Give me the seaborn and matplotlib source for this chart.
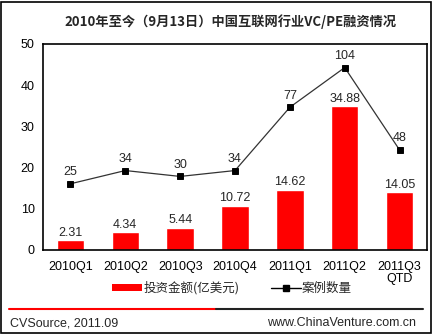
import matplotlib
matplotlib.use("Agg")
import matplotlib.pyplot as plt
import seaborn as sns
import pandas as pd
import numpy as np
from matplotlib.lines import Line2D
from matplotlib.patches import Patch, Rectangle

quarters = ["2010Q1", "2010Q2", "2010Q3", "2010Q4", "2011Q1", "2011Q2", "2011Q3\nQTD"]
amount = [2.31, 4.34, 5.44, 10.72, 14.62, 34.88, 14.05]
cases = [25, 34, 30, 34, 77, 104, 48]
title = "2010年至今（9月13日）中国互联网行业VC/PE融资情况"
bar_label_name = "投资金额(亿美元)"
line_label_name = "案例数量"

sns.set_theme(style="white")
plt.rcParams['font.family'] = ['Liberation Sans', 'Noto Sans CJK SC', 'DejaVu Sans']

df = pd.DataFrame({"quarter": quarters, "amount": amount, "cases": cases})

fig = plt.figure(figsize=(4.35, 3.35), dpi=100)
ax = fig.add_axes([43/435, 1-250/335, (427-43)/435, (250-44)/335])

sns.barplot(data=df, x="quarter", y="amount", color="#FF0000", saturation=1,
            width=0.5, ax=ax)
ax.set_ylim(0, 50)
ax.set_yticks([0, 10, 20, 30, 40, 50])
ax.set_xlabel("")
ax.set_ylabel("")
ax.tick_params(axis="both", length=0, labelsize=9, colors="black", pad=6)
ax.tick_params(axis="x", pad=8)
for lab in ax.get_xticklabels():
    lab.set_linespacing(1.0)
ax.bar_label(ax.containers[0], fmt="%.2f", padding=1, fontsize=9)
for s in ax.spines.values():
    s.set_color("black")
    s.set_linewidth(1.2)

ax2 = ax.twinx()
sns.pointplot(data=df, x="quarter", y="cases", color="black", markers="s",
              linestyles="-", ax=ax2, markersize=4.8, linewidth=0.9)
for ln in ax2.lines:
    ln.set_color("#333333")
    ln.set_markerfacecolor("black")
    ln.set_markeredgecolor("black")
ax2.set_ylim(-20, 120)
ax2.set_yticks([])
ax2.set_ylabel("")
ax2.set_xlabel("")
for s in ax2.spines.values():
    s.set_visible(False)
for i, v in enumerate(cases):
    ax2.annotate(str(v), (i, v), xytext=(0, 4), textcoords="offset points",
                 ha="center", va="bottom", fontsize=9)

fig.text(231/435, 1-22/335, title, ha="center", va="center", fontsize=9.5,
         fontweight="bold", family=['Noto Sans CJK SC', 'DejaVu Sans'])

handles = [Patch(facecolor="#FF0000", edgecolor="none"),
           Line2D([0], [0], color="black", marker="s", markersize=4.5, lw=1)]
fig.legend(handles, [bar_label_name, line_label_name], loc="center",
           bbox_to_anchor=(232/435, 1-288/335), ncol=2, frameon=False,
           handlelength=2.4, handleheight=0.5, columnspacing=2.5,
           handletextpad=0.1, prop={'family': ['Noto Sans CJK SC', 'DejaVu Sans'], 'size': 9})

fig.add_artist(Line2D([9/435, 216/435], [1-309/335]*2, color="#FF0000", lw=1.5,
                      transform=fig.transFigure))
fig.add_artist(Line2D([216/435, 423/435], [1-309/335]*2, color="#222222", lw=1.5,
                      transform=fig.transFigure))
fig.text(10/435, 1-323/335, "CVSource, 2011.09", ha="left", va="center", fontsize=9)
fig.text(416/435, 1-323/335, "www.ChinaVenture.com.cn", ha="right", va="center", fontsize=9)
fig.add_artist(Rectangle((1.5/435, 2/335), 430/435, 331/335, fill=False,
                         edgecolor="black", lw=1.2, transform=fig.transFigure))

fig.savefig("out.png", dpi=100)
